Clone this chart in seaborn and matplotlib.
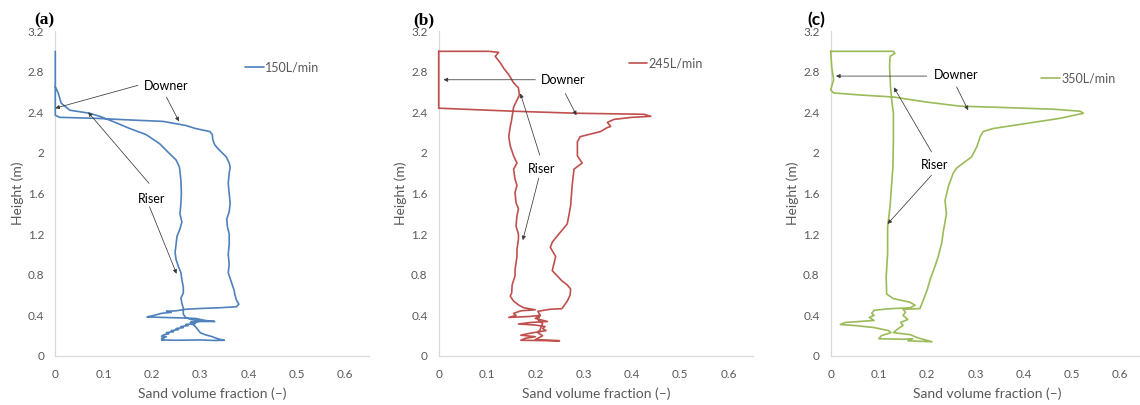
import matplotlib
matplotlib.use("Agg")
import matplotlib.pyplot as plt
import seaborn as sns
import pandas as pd

# ---------------- data: (sand volume fraction, height m) along each traced profile ----------------
a_profile = [
    (0, 3.0), (0, 2.7), (0, 2.5), (0, 2.37), (0.009, 2.35), (0.085, 2.34), (0.15, 2.325),
    (0.223, 2.31), (0.27, 2.27), (0.29, 2.24), (0.32, 2.21), (0.325, 2.18), (0.326, 2.13),
    (0.33, 2.08), (0.337, 2.04), (0.354, 1.96), (0.36, 1.9), (0.362, 1.86), (0.36, 1.8),
    (0.358, 1.7), (0.36, 1.6), (0.362, 1.5), (0.36, 1.42), (0.355, 1.35), (0.356, 1.28),
    (0.36, 1.2), (0.36, 1.1), (0.358, 1.0), (0.36, 0.9), (0.358, 0.82), (0.365, 0.72),
    (0.37, 0.65), (0.372, 0.6), (0.375, 0.55), (0.38, 0.51), (0.375, 0.485), (0.34, 0.475),
    (0.3, 0.468), (0.27, 0.46),
    (0.25, 0.445), (0.23, 0.44), (0.24, 0.43), (0.22, 0.42), (0.2, 0.395), (0.19, 0.385),
    (0.22, 0.38), (0.26, 0.375), (0.29, 0.37), (0.3, 0.36), (0.31, 0.35), (0.33, 0.34),
    (0.3, 0.34), (0.28, 0.33), (0.29, 0.32), (0.27, 0.31), (0.275, 0.3), (0.26, 0.29),
    (0.265, 0.28), (0.25, 0.27), (0.255, 0.26), (0.24, 0.25), (0.245, 0.24), (0.23, 0.23),
    (0.235, 0.22), (0.225, 0.21), (0.22, 0.195), (0.23, 0.19), (0.22, 0.175), (0.225, 0.165),
    (0.22, 0.158), (0.25, 0.155), (0.3, 0.158), (0.33, 0.153), (0.35, 0.155), (0.34, 0.165),
    (0.33, 0.18), (0.325, 0.19), (0.31, 0.21), (0.3, 0.23), (0.295, 0.26), (0.29, 0.29),
    (0.285, 0.31), (0.28, 0.33), (0.3, 0.345), (0.28, 0.36), (0.27, 0.38), (0.265, 0.41),
    (0.265, 0.44), (0.265, 0.47),
    (0.262, 0.52), (0.26, 0.57), (0.265, 0.62), (0.265, 0.68), (0.262, 0.75), (0.26, 0.82),
    (0.255, 0.88), (0.25, 0.95), (0.248, 1.02), (0.25, 1.1), (0.252, 1.18), (0.258, 1.25),
    (0.262, 1.32), (0.258, 1.4), (0.26, 1.5), (0.261, 1.6), (0.26, 1.73), (0.257, 1.86),
    (0.25, 1.93), (0.237, 1.99), (0.216, 2.09), (0.188, 2.18), (0.154, 2.24), (0.119, 2.31),
    (0.092, 2.36), (0.071, 2.39), (0.03, 2.42), (0.012, 2.49), (0.006, 2.59), (0, 2.65),
]

b_profile = [
    (0, 3.0), (0.103, 3.0), (0.124, 2.99), (0.117, 2.95), (0.127, 2.89), (0.135, 2.83),
    (0.145, 2.77), (0.155, 2.69), (0.165, 2.64), (0.167, 2.57), (0.162, 2.52), (0.155, 2.45),
    (0.152, 2.36), (0.15, 2.3), (0.148, 2.26), (0.145, 2.16), (0.148, 2.07), (0.155, 1.97),
    (0.162, 1.9), (0.155, 1.84), (0.158, 1.74), (0.162, 1.68), (0.158, 1.61), (0.16, 1.51),
    (0.165, 1.45), (0.162, 1.38), (0.16, 1.28), (0.165, 1.2), (0.165, 1.15), (0.162, 1.05),
    (0.162, 0.98), (0.158, 0.85), (0.158, 0.79), (0.152, 0.7), (0.151, 0.62), (0.148, 0.59),
    (0.155, 0.54), (0.166, 0.5), (0.176, 0.475),
    (0.2, 0.455), (0.17, 0.445), (0.155, 0.42), (0.16, 0.4), (0.145, 0.38), (0.17, 0.385),
    (0.19, 0.39), (0.21, 0.40), (0.2, 0.37), (0.225, 0.34), (0.19, 0.33), (0.165, 0.315),
    (0.2, 0.305), (0.22, 0.29), (0.215, 0.27), (0.222, 0.25), (0.19, 0.225), (0.17, 0.205),
    (0.2, 0.19), (0.18, 0.175), (0.17, 0.155), (0.21, 0.152), (0.25, 0.15), (0.2, 0.16),
    (0.215, 0.2), (0.205, 0.23), (0.21, 0.26), (0.215, 0.32), (0.205, 0.36), (0.21, 0.4),
    (0.205, 0.44), (0.23, 0.46), (0.255, 0.466),
    (0.26, 0.5), (0.266, 0.54), (0.272, 0.6), (0.273, 0.66), (0.266, 0.7), (0.255, 0.74),
    (0.245, 0.79), (0.235, 0.84), (0.239, 0.92), (0.242, 0.98), (0.231, 1.07), (0.235, 1.12),
    (0.245, 1.18), (0.266, 1.3), (0.27, 1.4), (0.273, 1.48), (0.276, 1.67), (0.28, 1.84),
    (0.297, 1.9), (0.287, 1.97), (0.287, 2.11), (0.293, 2.16), (0.335, 2.21), (0.349, 2.25),
    (0.356, 2.26), (0.349, 2.3), (0.363, 2.33), (0.40, 2.35), (0.439, 2.36), (0.425, 2.38),
    (0.287, 2.39), (0.155, 2.41), (0, 2.44), (0, 3.0),
]

c_profile = [
    (0, 3.0), (0.13, 3.0), (0.133, 2.98), (0.123, 2.95), (0.122, 2.85), (0.124, 2.65),
    (0.127, 2.5), (0.13, 2.39), (0.13, 2.13), (0.129, 1.86), (0.126, 1.67), (0.123, 1.47),
    (0.118, 1.27), (0.118, 1.01), (0.115, 0.78), (0.116, 0.61), (0.13, 0.565), (0.164, 0.53),
    (0.175, 0.5), (0.165, 0.475), (0.12, 0.465), (0.09, 0.45), (0.085, 0.42), (0.09, 0.4),
    (0.08, 0.38), (0.09, 0.35), (0.06, 0.34), (0.03, 0.33), (0.02, 0.31), (0.05, 0.30),
    (0.09, 0.28), (0.12, 0.25), (0.125, 0.23), (0.105, 0.2), (0.10, 0.17), (0.15, 0.165),
    (0.17, 0.17), (0.16, 0.15), (0.21, 0.14), (0.18, 0.18), (0.165, 0.21), (0.13, 0.23),
    (0.14, 0.27), (0.15, 0.3), (0.145, 0.33), (0.16, 0.36), (0.15, 0.4), (0.155, 0.43),
    (0.15, 0.46), (0.185, 0.467),
    (0.192, 0.55), (0.2, 0.65), (0.206, 0.75), (0.216, 0.88), (0.223, 0.98), (0.23, 1.11),
    (0.234, 1.24), (0.24, 1.40), (0.237, 1.53), (0.244, 1.67), (0.254, 1.8), (0.261, 1.85),
    (0.275, 1.9), (0.292, 1.96), (0.303, 2.06), (0.31, 2.16), (0.316, 2.21), (0.337, 2.24),
    (0.406, 2.29), (0.475, 2.34), (0.524, 2.39), (0.517, 2.41), (0.462, 2.43), (0.337, 2.45),
    (0.268, 2.46), (0.199, 2.5), (0.13, 2.55), (0.061, 2.57), (0.006, 2.59), (0, 2.62),
    (0.006, 2.72), (0.002, 2.85), (0, 3.0),
]

series_labels = ["150L/min", "245L/min", "350L/min"]
panel_tags = ["(a)", "(b)", "(c)"]
x_ticks = [0, 0.1, 0.2, 0.3, 0.4, 0.5, 0.6]
x_tick_labels = ["0", "0.1", "0.2", "0.3", "0.4", "0.5", "0.6"]
y_ticks = [0, 0.4, 0.8, 1.2, 1.6, 2.0, 2.4, 2.8, 3.2]
y_tick_labels = ["0", "0.4", "0.8", "1.2", "1.6", "2", "2.4", "2.8", "3.2"]

# ---------------- style ----------------
sns.set_theme(style="white")
plt.rcParams['font.family'] = ['Lato', 'DejaVu Sans']

colors = ["#4F81BD", "#C0504D", "#9BBB59"]
gray = "#595959"
spine_col = "#D9D9D9"

fig = plt.figure(figsize=(11.4, 4.05), dpi=100)
W, H = 1140, 405

def px_axes(left, right, top, bottom):
    return fig.add_axes([left / W, 1 - bottom / H, (right - left) / W, (bottom - top) / H])

axes = [px_axes(55.3, 369.3, 31, 356),
        px_axes(438.7, 752.8, 31, 356),
        px_axes(830.7, 1144.2, 31, 356)]

profiles = [a_profile, b_profile, c_profile]

legend_anchor = [(0.605, 0.887), (0.605, 0.90), (0.672, 0.853)]

# annotations: (text, text_xy, [(tail, head), ...])
annots = [
    [("Downer", (0.23, 2.66), [((0.171, 2.665), (0.0, 2.44)), ((0.23, 2.55), (0.256, 2.31))]),
     ("Riser", (0.20, 1.545), [((0.194, 1.70), (0.068, 2.40)), ((0.195, 1.47), (0.251, 0.81))])],
    [("Downer", (0.257, 2.72), [((0.20, 2.72), (0.01, 2.72)), ((0.262, 2.585), (0.285, 2.37))]),
     ("Riser", (0.213, 1.84), [((0.209, 1.98), (0.169, 2.585)), ((0.207, 1.75), (0.174, 1.14))])],
    [("Downer", (0.26, 2.766), [((0.199, 2.756), (0.011, 2.756)), ((0.261, 2.65), (0.285, 2.42))]),
     ("Riser", (0.216, 1.88), [((0.209, 2.01), (0.131, 2.645)), ((0.209, 1.78), (0.118, 1.30))])],
]

for i, ax in enumerate(axes):
    df = pd.DataFrame(profiles[i], columns=["frac", "height"])
    sns.lineplot(data=df, x="frac", y="height", sort=False, estimator=None,
                 color=colors[i], lw=1.2, ax=ax, label=series_labels[i])
    for ln in ax.lines:
        ln.set_clip_on(False)
        ln.set_zorder(3)
    ax.set_xlim(0, 0.65)
    ax.set_ylim(0, 3.2)
    ax.set_xticks(x_ticks)
    ax.set_xticklabels(x_tick_labels)
    ax.set_yticks(y_ticks)
    ax.set_yticklabels(y_tick_labels)
    ax.tick_params(axis='both', length=0, labelsize=8.5, labelcolor=gray)
    ax.tick_params(axis='x', pad=9)
    ax.tick_params(axis='y', pad=8)
    ax.set_xlabel("Sand volume fraction (\u2013)", fontsize=10, color=gray, labelpad=6)
    ax.set_ylabel("Height (m)", fontsize=10, color=gray, labelpad=3)
    for s in ["top", "right"]:
        ax.spines[s].set_visible(False)
    for s in ["left", "bottom"]:
        ax.spines[s].set_color(spine_col)
        ax.spines[s].set_linewidth(0.9)
        ax.spines[s].set_zorder(1)
    ax.patch.set_alpha(0)
    leg = ax.legend(loc="center left", bbox_to_anchor=legend_anchor[i], frameon=False,
                    handlelength=1.5, handletextpad=0.1, borderpad=0, borderaxespad=0,
                    fontsize=9)
    for t in leg.get_texts():
        t.set_color(gray)
    for text, txy, arrows in annots[i]:
        ax.text(txy[0], txy[1], text, ha="center", va="center", fontsize=9, color="black")
        for tail, head in arrows:
            ax.annotate("", xy=head, xytext=tail,
                        arrowprops=dict(arrowstyle="-|>", color="#3a3a3a", lw=0.55,
                                        mutation_scale=6, shrinkA=0, shrinkB=0))

tag_pos = [(44, 20.5), (423.5, 20.5), (816, 20.5)]
for tag, (px, py) in zip(panel_tags, tag_pos):
    fam = ['Liberation Serif', 'DejaVu Serif'] if tag != "(c)" else ['Lato', 'DejaVu Sans']
    fig.text(px / W, 1 - py / H, tag, ha="center", va="center", fontsize=12.5,
             fontweight="bold", family=fam, color="black")

fig.savefig("out.png", dpi=100, facecolor="white")
